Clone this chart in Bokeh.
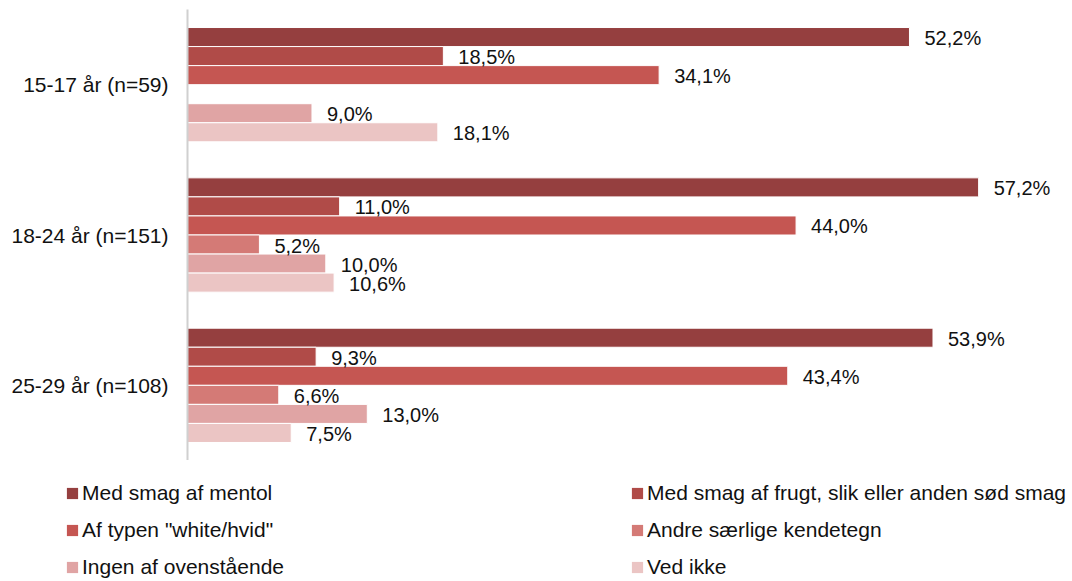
from bokeh.plotting import figure
from bokeh.layouts import column
from bokeh.models import ColumnDataSource, FactorRange, Range1d, LabelSet, Legend, LegendItem
from bokeh.transform import dodge
from bokeh.core.properties import value
from bokeh.embed import file_html
from bokeh.resources import INLINE

categories = ["15-17 år (n=59)", "18-24 år (n=151)", "25-29 år (n=108)"]
series_names = [
    "Med smag af mentol",
    "Med smag af frugt, slik eller anden sød smag",
    'Af typen "white/hvid"',
    "Andre særlige kendetegn",
    "Ingen af ovenstående",
    "Ved ikke",
]
mentol = [52.2, 57.2, 53.9]
frugt = [18.5, 11.0, 9.3]
white = [34.1, 44.0, 43.4]
andre = [None, 5.2, 6.6]
ingen = [9.0, 10.0, 13.0]
ved_ikke = [18.1, 10.6, 7.5]
series_values = [mentol, frugt, white, andre, ingen, ved_ikke]
colors = ["#953F3F", "#B04B48", "#C55652", "#D47A76", "#E0A4A4", "#EBC5C4"]

FONT = "Liberation Sans"

p = figure(
    width=1064, height=460,
    y_range=FactorRange(*reversed(categories)),
    x_range=Range1d(0, 62.83),
    x_axis_location=None,
    output_backend="svg", toolbar_location=None,
    min_border_left=187, min_border_right=8, min_border_top=9, min_border_bottom=0,
)
p.frame_align = False
p.outline_line_color = None
p.grid.grid_line_color = None
p.yaxis.axis_line_color = "#D0D0D0"
p.yaxis.axis_line_width = 2
p.yaxis.major_tick_line_color = None
p.yaxis.minor_tick_line_color = None
p.yaxis.major_label_standoff = 13
p.yaxis.major_label_text_font = FONT
p.yaxis.major_label_text_font_size = "21px"
p.yaxis.major_label_text_color = "#111111"

# legend figure
lf = figure(
    width=1072, height=119,
    x_range=Range1d(0, 1), y_range=Range1d(0, 1),
    x_axis_location=None, y_axis_location=None,
    output_backend="svg", toolbar_location=None,
    min_border_left=0, min_border_right=0, min_border_top=0, min_border_bottom=0,
)
lf.frame_align = False
lf.outline_line_color = None
lf.grid.grid_line_color = None

bar_h = 0.1267
nan = float("nan")
items = []
for i, (name, vals, col) in enumerate(zip(series_names, series_values, colors)):
    cats = [c for c, v in zip(categories, vals) if v is not None]
    vs = [v for v in vals if v is not None]
    src = ColumnDataSource(dict(cat=cats, val=vs, lab=[f"{v:.1f}%".replace(".", ",") for v in vs]))
    off = (2.5 - i) * bar_h
    p.hbar(y=dodge("cat", off, range=p.y_range), right="val", left=0, height=bar_h,
           fill_color=col, line_color="white", line_width=1, source=src)
    labels = LabelSet(x="val", y=dodge("cat", off, range=p.y_range), text="lab", source=src,
                      x_offset=15, y_offset=-1, text_baseline="middle",
                      text_font=value(FONT), text_font_size="20px", text_color="#111111")
    p.add_layout(labels)
    dummy = lf.rect(x=[nan], y=[nan], width=1, height=1, fill_color=col, line_color=None)
    items.append(LegendItem(label=name, renderers=[dummy]))

legend = Legend(items=items, location=(65, 0), orientation="horizontal", ncols=2,
                glyph_width=14, glyph_height=14, label_standoff=3, label_width=535,
                label_height=20, spacing=13, padding=0, margin=0,
                border_line_color=None, background_fill_alpha=0,
                label_text_font=FONT, label_text_font_size="21px", label_text_color="#111111")
lf.add_layout(legend, "center")

layout = column(p, lf, spacing=0)
open("out.html", "w").write(file_html(layout, INLINE))
